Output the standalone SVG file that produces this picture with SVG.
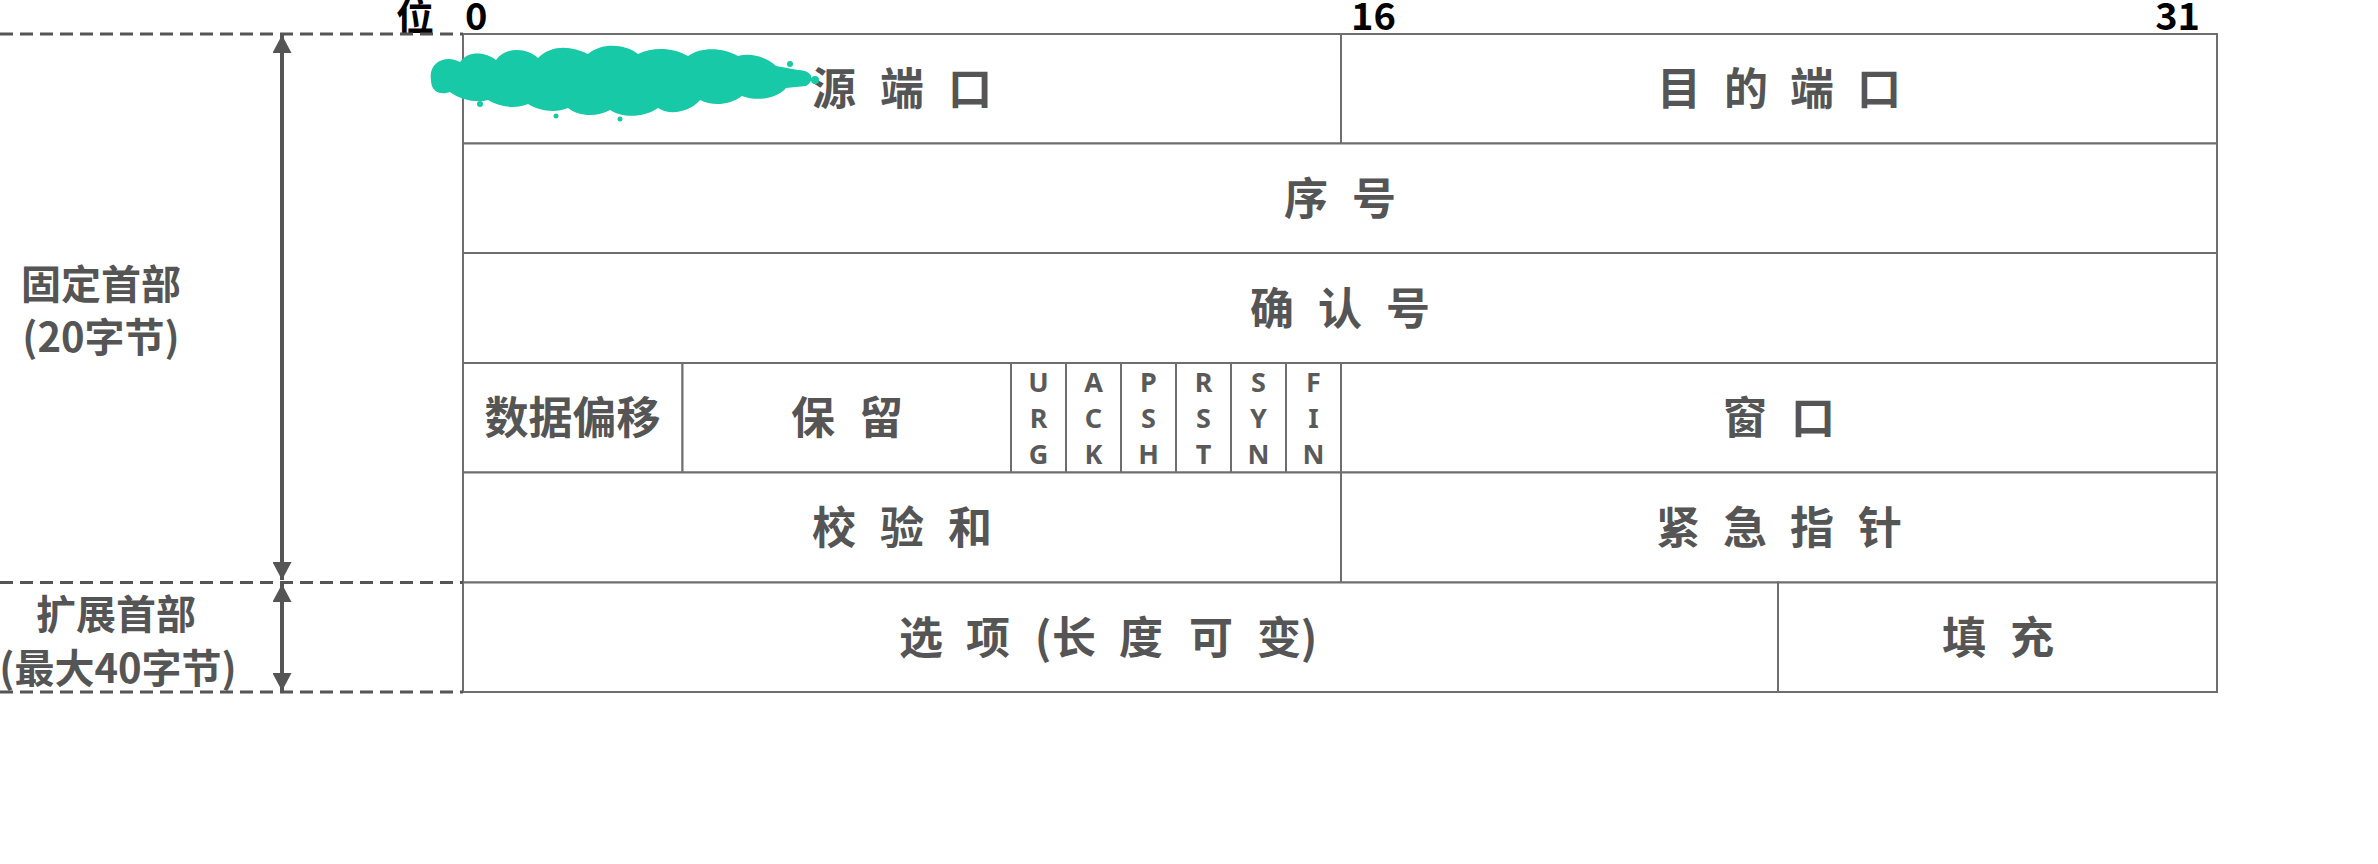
<svg xmlns="http://www.w3.org/2000/svg" width="2378" height="864" viewBox="0 0 2378 864">
<style>
.cell{fill:#fff;stroke:#6e6e6e;stroke-width:2}
.t{font-family:"Noto Sans CJK SC","Noto Sans",sans-serif;font-weight:700;font-size:44px;fill:#555;text-anchor:middle}
.side{font-family:"Noto Sans CJK SC","Noto Sans",sans-serif;font-weight:700;font-size:40px;fill:#555;text-anchor:middle}
.bit{font-family:"Noto Sans CJK SC","Noto Sans",sans-serif;font-weight:700;font-size:38px;fill:#000}
.flag{font-family:"Noto Sans","DejaVu Sans",sans-serif;font-weight:700;font-size:27px;fill:#5a5a5a;text-anchor:middle}
.dash{stroke:#555;stroke-width:3;stroke-dasharray:13 7;fill:none}
.arr{stroke:#555;stroke-width:4;fill:none;marker-start:url(#ah);marker-end:url(#ah)}
.blob{fill:#17c9a6}
</style>
<defs>
<marker id="ah" viewBox="0 0 18 19" refX="18" refY="9.5" markerWidth="18" markerHeight="19" markerUnits="userSpaceOnUse" orient="auto-start-reverse">
<path d="M0,0 L18,9.5 L0,19 z" fill="#555"/>
</marker>
</defs>
<rect width="2378" height="864" fill="#fff"/>

<g id="bit-labels">
<text class="bit" x="396" y="30">位</text>
<text class="bit" x="465" y="30">0</text>
<text class="bit" x="1351" y="30">16</text>
<text class="bit" x="2200" y="30" text-anchor="end">31</text>
</g>

<g id="src_port"><rect class="cell" x="463" y="34" width="878" height="109.5"/><text class="t" x="834 868 902 936 970" y="105">源 端 口</text></g>
<g id="dst_port"><rect class="cell" x="1341" y="34" width="876" height="109.5"/><text class="t" x="1679 1713 1746 1779 1812 1846 1879" y="105">目 的 端 口</text></g>
<g id="seq"><rect class="cell" x="463" y="143.5" width="1754" height="109.5"/><text class="t" x="1306 1340 1374" y="214.5">序 号</text></g>
<g id="ack"><rect class="cell" x="463" y="253" width="1754" height="110"/><text class="t" x="1272 1306 1340 1374 1408" y="324.5">确 认 号</text></g>
<g id="data_offset"><rect class="cell" x="463" y="363" width="219.5" height="109.5"/><text class="t" x="572.5" y="434">数据偏移</text></g>
<g id="reserved"><rect class="cell" x="682.5" y="363" width="328.5" height="109.5"/><text class="t" x="813 847 881" y="434">保 留</text></g>
<g id="flag_urg"><rect class="cell" x="1011" y="363" width="55" height="109.5"/><text class="flag" x="1038.5" y="392">U</text><text class="flag" x="1038.5" y="428">R</text><text class="flag" x="1038.5" y="464">G</text></g>
<g id="flag_ack"><rect class="cell" x="1066" y="363" width="55" height="109.5"/><text class="flag" x="1093.5" y="392">A</text><text class="flag" x="1093.5" y="428">C</text><text class="flag" x="1093.5" y="464">K</text></g>
<g id="flag_psh"><rect class="cell" x="1121" y="363" width="55" height="109.5"/><text class="flag" x="1148.5" y="392">P</text><text class="flag" x="1148.5" y="428">S</text><text class="flag" x="1148.5" y="464">H</text></g>
<g id="flag_rst"><rect class="cell" x="1176" y="363" width="55" height="109.5"/><text class="flag" x="1203.5" y="392">R</text><text class="flag" x="1203.5" y="428">S</text><text class="flag" x="1203.5" y="464">T</text></g>
<g id="flag_syn"><rect class="cell" x="1231" y="363" width="55" height="109.5"/><text class="flag" x="1258.5" y="392">S</text><text class="flag" x="1258.5" y="428">Y</text><text class="flag" x="1258.5" y="464">N</text></g>
<g id="flag_fin"><rect class="cell" x="1286" y="363" width="55" height="109.5"/><text class="flag" x="1313.5" y="392">F</text><text class="flag" x="1313.5" y="428">I</text><text class="flag" x="1313.5" y="464">N</text></g>
<g id="window"><rect class="cell" x="1341" y="363" width="876" height="109.5"/><text class="t" x="1745 1779 1813" y="434">窗 口</text></g>
<g id="checksum"><rect class="cell" x="463" y="472.5" width="878" height="110"/><text class="t" x="834 868 902 936 970" y="544">校 验 和</text></g>
<g id="urgent"><rect class="cell" x="1341" y="472.5" width="876" height="110"/><text class="t" x="1678 1712 1745 1779 1812 1846 1880" y="544">紧 急 指 针</text></g>
<g id="options"><rect class="cell" x="463" y="582.5" width="1315" height="109.5"/><text class="t" x="921 955 988 1016 1043 1074 1107 1141 1176 1211 1245 1279 1309" y="654">选 项 (长 度 可 变)</text></g>
<g id="padding"><rect class="cell" x="1778" y="582.5" width="439" height="109.5"/><text class="t" x="1964 1998 2032" y="654">填 充</text></g>

<g id="redaction">
<path class="blob" d="M431,80 C428,62 446,54 460,62 C468,50 486,52 496,60 C506,46 528,48 538,58 C552,44 572,46 588,54 C602,42 626,44 638,54 C654,46 674,48 688,56 C702,46 724,48 738,56 C752,52 768,58 776,66 L798,70 C812,70 816,80 806,86 L786,88 C778,98 758,102 742,96 C728,106 712,106 700,100 C690,112 670,116 658,108 C644,118 622,118 610,110 C596,118 578,116 568,108 C554,114 538,110 528,104 C514,110 498,106 488,100 C474,104 458,98 450,92 C438,96 431,90 431,80 Z"/>
<circle class="blob" cx="480" cy="104" r="3"/><circle class="blob" cx="556" cy="116" r="2.5"/><circle class="blob" cx="620" cy="119" r="2.5"/><circle class="blob" cx="790" cy="64" r="3"/><circle class="blob" cx="815" cy="80" r="4"/>
</g>

<g id="side-labels">
<text class="side" x="101" y="299">固定首部</text>
<text class="side" x="101" y="352">(20字节)</text>
<text class="side" x="116" y="629">扩展首部</text>
<text class="side" x="118" y="683">(最大40字节)</text>
</g>

<g id="connectors">
<line class="dash" x1="0" y1="34" x2="463" y2="34"/>
<line class="dash" x1="0" y1="582.5" x2="463" y2="582.5"/>
<line class="dash" x1="0" y1="692" x2="463" y2="692"/>
<line class="arr" x1="282" y1="35" x2="282" y2="580"/>
<line class="arr" x1="282" y1="584" x2="282" y2="691"/>
</g>
</svg>
